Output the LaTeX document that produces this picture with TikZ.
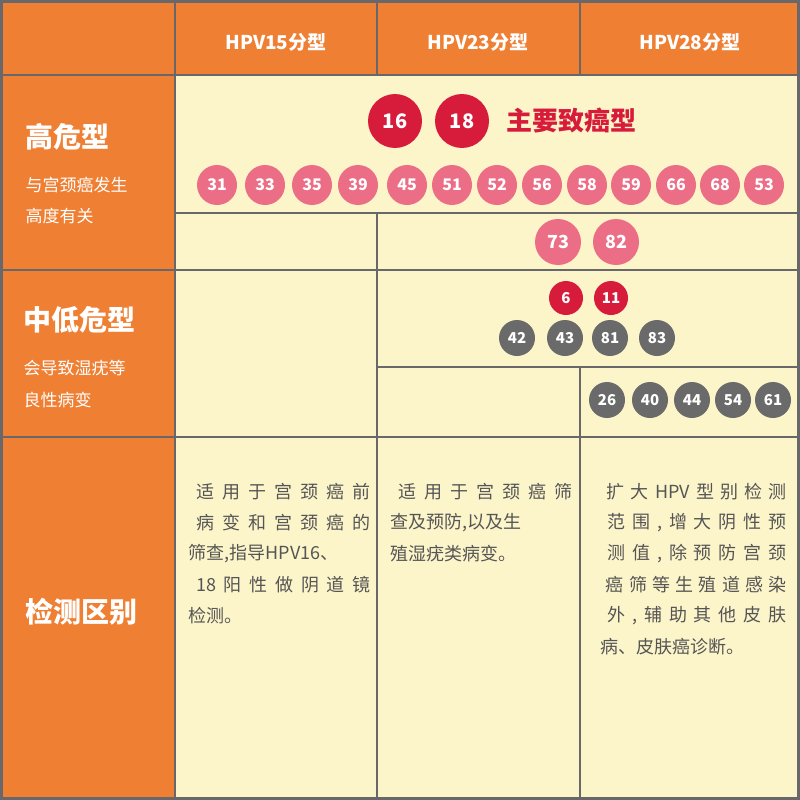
\documentclass[tikz,border=0pt]{standalone}
\usepackage{fontspec}
\setmainfont{Noto Sans CJK SC}
\definecolor{org}{HTML}{EE7F33}
\definecolor{crm}{HTML}{FDF5CA}
\definecolor{ln}{HTML}{68686A}
\definecolor{rd}{HTML}{D71B3B}
\definecolor{pk}{HTML}{EC6E86}
\definecolor{gy}{HTML}{6A6A6A}
\definecolor{tx}{HTML}{555555}
\def\spx#1{\ifx\relax#1\else\hfil#1\expandafter\spx\fi}
\newcommand\spr[2]{\makebox[#1][s]{\spx#2\relax}}
\begin{document}
\begin{tikzpicture}[x=1pt,y=-1pt,
  ball/.style={circle,inner sep=0pt,text=white,font=\bfseries\fontsize{#1}{#1}\selectfont},
  big/.style={ball=20,fill=rd,minimum size=54pt},
  pb/.style={ball=16,fill=pk,minimum size=40pt},
  pm/.style={ball=18,fill=pk,minimum size=46pt},
  rs/.style={ball=15,fill=rd,minimum size=34pt},
  gb/.style={ball=15,fill=gy,minimum size=36pt},
  hd/.style={text=white,font=\bfseries\fontsize{19}{19}\selectfont},
  lab/.style={text=white,font=\bfseries\fontsize{28}{28}\selectfont,anchor=west},
  sub/.style={text=white,font=\fontsize{17}{17}\selectfont,anchor=west},
  body/.style={text=tx,font=\fontsize{18}{18}\selectfont,anchor=west}]
\useasboundingbox (0,0) rectangle (800,800);
\fill[org] (0,0) rectangle (800,800);
\fill[crm] (175,75) rectangle (800,800);
\draw[ln,line width=3pt] (1.5,1.5) rectangle (798.5,798.5);
\draw[ln,line width=2.5pt] (0,75)--(800,75) (0,270)--(800,270) (0,437)--(800,437)
  (175,0)--(175,800) (377,0)--(377,75) (580,0)--(580,75)
  (175,213)--(800,213) (377,213)--(377,800) (580,437)--(580,800)
  (377,367)--(800,367) (580,367)--(580,437);
% headers
\node[hd] (h1) at (276,42) {HPV15分型};
\node[hd] (h2) at (478,42) {HPV23分型};
\node[hd] (h3) at (690,42) {HPV28分型};
% left labels
\node[lab] (l1) at (22,137) {高危型};
\node[sub] (l1a) at (22,185) {与宫颈癌发生};
\node[sub] (l1b) at (22,216) {高度有关};
\node[lab] (l2) at (20,320) {中低危型};
\node[sub] (l2a) at (20,368) {会导致湿疣等};
\node[sub] (l2b) at (20,400) {良性病变};
\node[lab] (l3) at (22,612) {检测区别};
% high risk
\node[big] (b16) at (395,121) {16};
\node[big] (b18) at (462,121) {18};
\node[anchor=west,text=rd,font=\bfseries\fontsize{26}{26}\selectfont] (main) at (503,120) {主要致癌型};
\foreach \n/\x in {31/217,33/265,35/312,39/358,45/407,51/452,52/497,56/542,58/587,59/631,66/676,68/720,53/764}
  \node[pb] (p\n) at (\x,185) {\n};
\node[pm] (p73) at (558,242) {73};
\node[pm] (p82) at (616,242) {82};
% mid-low
\node[rs] (r6) at (566,298) {6};
\node[rs] (r11) at (611,298) {11};
\foreach \n/\x in {42/517,43/565,81/610,83/657}
  \node[gb] (g\n) at (\x,338) {\n};
\foreach \n/\x in {26/607,40/650,44/692,54/733,61/773}
  \node[gb] (g\n) at (\x,400) {\n};
% body
\node[body] (a1) at (185,492) {\spr{182pt}{适用于宫颈癌前}};
\node[body] (a2) at (185,523) {\spr{182pt}{病变和宫颈癌的}};
\node[body] (a3) at (185,554) {筛查,指导HPV16、};
\node[body] (a4) at (185,585) {\spr{182pt}{{18}阳性做阴道镜}};
\node[body] (a5) at (185,616) {检测。};
\node[body] (b1) at (387,492) {\spr{182pt}{适用于宫颈癌筛}};
\node[body] (b2) at (387,523) {查及预防,以及生};
\node[body] (b3) at (387,554) {殖湿疣类病变。};
\node[body] (c1) at (597,492) {\spr{186pt}{扩大{HPV}型别检测}};
\node[body] (c2) at (597,523) {\spr{186pt}{范围,增大阴性预}};
\node[body] (c3) at (597,554) {\spr{186pt}{测值,除预防宫颈}};
\node[body] (c4) at (597,585) {\spr{186pt}{癌筛等生殖道感染}};
\node[body] (c5) at (597,616) {\spr{186pt}{外,辅助其他皮肤}};
\node[body] (c6) at (597,647) {病、皮肤癌诊断。};
\end{tikzpicture}
\end{document}
